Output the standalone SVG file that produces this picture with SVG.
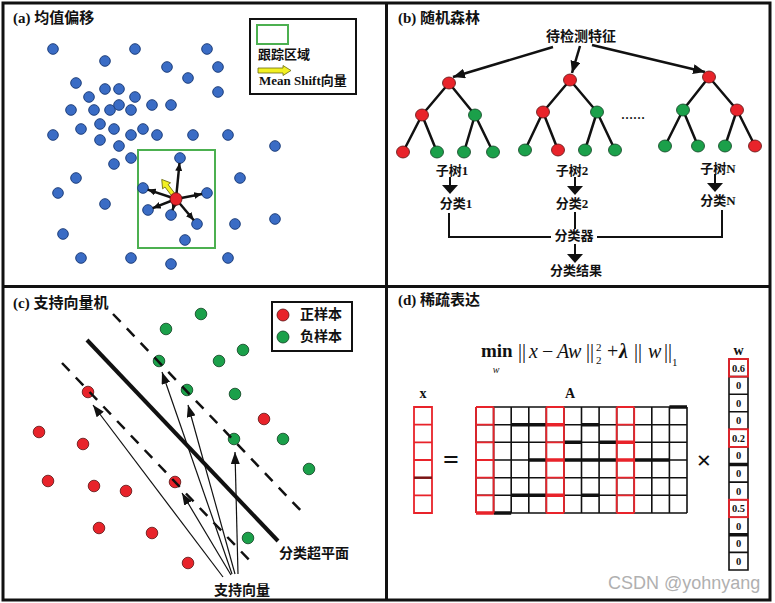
<svg xmlns="http://www.w3.org/2000/svg" width="775" height="603" viewBox="0 0 775 603">
<style>
.t{font-family:"Liberation Serif","Noto Sans CJK SC",serif;font-weight:bold;fill:#111}
.bd{fill:#3a6cc5;stroke:#1e3f7c;stroke-width:1}
.rd{fill:#e8232a;stroke:#5a1010;stroke-width:0.8}
.gd{fill:#1ba04a;stroke:#0d4020;stroke-width:0.8}
.ln{stroke:#111;stroke-width:2.5;fill:none}
.thin{stroke:#111;stroke-width:1.2;fill:none}
.grid{stroke:#111;stroke-width:1.6;fill:none}
.red{stroke:#e8232a;stroke-width:1.8;fill:none}
.thick{stroke:#111;stroke-width:3.5;fill:none}
.thickr{stroke:#e8232a;stroke-width:3.5;fill:none}
.dash{stroke:#111;stroke-width:2.5;fill:none;stroke-dasharray:11 9}
</style>
<defs>
<marker id="ma" markerUnits="userSpaceOnUse" markerWidth="8" markerHeight="7" refX="8" refY="3.5" orient="auto"><path d="M0,0 L8,3.5 L0,7 z" fill="#111"/></marker>
<marker id="mb" markerUnits="userSpaceOnUse" markerWidth="12" markerHeight="10" refX="12" refY="5" orient="auto"><path d="M0,0 L12,5 L0,10 z" fill="#111"/></marker>
<marker id="mc" markerUnits="userSpaceOnUse" markerWidth="12" markerHeight="9" refX="12" refY="4.5" orient="auto"><path d="M0,0 L12,4.5 L0,9 z" fill="#111"/></marker>
</defs>
<rect x="0" y="0" width="775" height="603" fill="#fff"/>
<g id="frames">
<rect x="3" y="3" width="767" height="597" fill="none" stroke="#111" stroke-width="3"/>
<line x1="386.5" y1="3" x2="386.5" y2="600" stroke="#111" stroke-width="3"/>
<line x1="3" y1="286.5" x2="770" y2="286.5" stroke="#111" stroke-width="3"/>
</g>

<!-- Panel (a) -->
<g id="panel-a">
<text class="t" x="13" y="23" font-size="15">(a) 均值偏移</text>
<rect x="138" y="150" width="77" height="98" fill="none" stroke="#4cb050" stroke-width="2"/>
<g id="points-a">
<circle class="bd" cx="53" cy="49" r="5.3"/><circle class="bd" cx="135" cy="49" r="5.3"/><circle class="bd" cx="207" cy="49" r="5.3"/>
<circle class="bd" cx="105" cy="61" r="5.3"/><circle class="bd" cx="167" cy="67" r="5.3"/><circle class="bd" cx="218" cy="67" r="5.3"/>
<circle class="bd" cx="188" cy="78" r="5.3"/><circle class="bd" cx="76" cy="83" r="5.3"/><circle class="bd" cx="105" cy="89" r="5.3"/>
<circle class="bd" cx="119" cy="89" r="5.3"/><circle class="bd" cx="218" cy="92" r="5.3"/><circle class="bd" cx="89" cy="97" r="5.3"/>
<circle class="bd" cx="135" cy="97" r="5.3"/><circle class="bd" cx="71" cy="110" r="5.3"/><circle class="bd" cx="94" cy="110" r="5.3"/>
<circle class="bd" cx="110" cy="110" r="5.3"/><circle class="bd" cx="119" cy="105" r="5.3"/><circle class="bd" cx="131" cy="110" r="5.3"/>
<circle class="bd" cx="152" cy="105" r="5.3"/><circle class="bd" cx="171" cy="105" r="5.3"/><circle class="bd" cx="53" cy="135" r="5.3"/>
<circle class="bd" cx="81" cy="129" r="5.3"/><circle class="bd" cx="100" cy="124" r="5.3"/><circle class="bd" cx="114" cy="129" r="5.3"/>
<circle class="bd" cx="131" cy="135" r="5.3"/><circle class="bd" cx="143" cy="129" r="5.3"/><circle class="bd" cx="157" cy="135" r="5.3"/>
<circle class="bd" cx="193" cy="135" r="5.3"/><circle class="bd" cx="228" cy="135" r="5.3"/><circle class="bd" cx="100" cy="140" r="5.3"/>
<circle class="bd" cx="119" cy="146" r="5.3"/><circle class="bd" cx="275" cy="146" r="5.3"/><circle class="bd" cx="131" cy="158" r="5.3"/>
<circle class="bd" cx="114" cy="164" r="5.3"/><circle class="bd" cx="180" cy="158" r="5.3"/><circle class="bd" cx="76" cy="178" r="5.3"/>
<circle class="bd" cx="240" cy="178" r="5.3"/><circle class="bd" cx="143" cy="188" r="5.3"/><circle class="bd" cx="207" cy="193" r="5.3"/>
<circle class="bd" cx="58" cy="193" r="5.3"/><circle class="bd" cx="105" cy="204" r="5.3"/><circle class="bd" cx="148" cy="210" r="5.3"/>
<circle class="bd" cx="171" cy="215" r="5.3"/><circle class="bd" cx="197" cy="224" r="5.3"/><circle class="bd" cx="235" cy="224" r="5.3"/>
<circle class="bd" cx="275" cy="219" r="5.3"/><circle class="bd" cx="63" cy="234" r="5.3"/><circle class="bd" cx="185" cy="240" r="5.3"/>
<circle class="bd" cx="81" cy="258" r="5.3"/><circle class="bd" cx="131" cy="258" r="5.3"/><circle class="bd" cx="171" cy="264" r="5.3"/>
<circle class="bd" cx="228" cy="258" r="5.3"/>
</g>
<g id="shift-arrows">
<line class="ln" x1="176" y1="199" x2="179.5" y2="163" stroke-width="2" marker-end="url(#ma)"/>
<line class="ln" x1="176" y1="199" x2="147.7" y2="189.6" stroke-width="2" marker-end="url(#ma)"/>
<line class="ln" x1="176" y1="199" x2="202" y2="194" stroke-width="2" marker-end="url(#ma)"/>
<line class="ln" x1="176" y1="199" x2="152.7" y2="208.2" stroke-width="2" marker-end="url(#ma)"/>
<line class="ln" x1="176" y1="199" x2="172.5" y2="210.2" stroke-width="2" marker-end="url(#ma)"/>
<line class="ln" x1="176" y1="199" x2="193.8" y2="220.2" stroke-width="2" marker-end="url(#ma)"/>
<polygon transform="translate(175,197) rotate(-127)" points="0,-2 14,-2 14,-5 22,0 14,5 14,2 0,2" fill="#f2f022" stroke="#6a6a10" stroke-width="0.8"/>
</g>
<ellipse class="rd" cx="176" cy="199" rx="6" ry="6.3"/>
<g id="legend-a">
<rect x="250" y="19" width="106" height="75" fill="#fff" stroke="#111" stroke-width="2"/>
<rect x="257" y="25" width="31" height="19" fill="#fff" stroke="#4cb050" stroke-width="2"/>
<text class="t" x="258" y="59" font-size="13">跟踪区域</text>
<polygon points="258,68 283,68 283,65.5 291,70.5 283,75.5 283,73 258,73" fill="#f2f022" stroke="#6a6a10" stroke-width="0.8"/>
<text class="t" x="259" y="85" font-size="13">Mean Shift向量</text>
</g>
</g>

<!-- Panel (b) -->
<g id="panel-b">
<text class="t" x="398" y="23" font-size="15">(b) 随机森林</text>
<text class="t" x="581" y="41" font-size="14" text-anchor="middle">待检测特征</text>
<g id="connectors-b">
<line class="ln" x1="553" y1="47" x2="453" y2="77" marker-end="url(#mb)"/>
<line class="ln" x1="580" y1="46" x2="572" y2="73" marker-end="url(#mb)"/>
<line class="ln" x1="592" y1="45" x2="705" y2="72" marker-end="url(#mb)"/>
<path class="ln" d="M449,83 L422,115 M449,83 L475,115 M422,115 L403,152 M422,115 L437,152 M475,115 L464,152 M475,115 L493,152"/>
<path class="ln" d="M570,80 L543,112 M570,80 L597,112 M543,112 L525,150 M543,112 L558,150 M597,112 L585,150 M597,112 L615,150"/>
<path class="ln" d="M709,77 L683,110 M709,77 L737,110 M683,110 L665,146 M683,110 L698,146 M737,110 L725,146 M737,110 L755,146"/>
<line x1="450" y1="177" x2="450" y2="186" stroke="#111" stroke-width="2"/>
<polygon points="442,185 458,185 450,194" fill="#111"/>
<line x1="575" y1="177" x2="575" y2="187" stroke="#111" stroke-width="2"/>
<polygon points="567,186 583,186 575,195" fill="#111"/>
<line x1="715" y1="174" x2="715" y2="184" stroke="#111" stroke-width="2"/>
<polygon points="707,183 723,183 715,192" fill="#111"/>
<path d="M449,213 V237 H722 V210" stroke="#111" stroke-width="2" fill="none"/>
<line x1="575" y1="212" x2="575" y2="255" stroke="#111" stroke-width="2"/>
<polygon points="567,254 583,254 575,263" fill="#111"/>
</g>
<g id="tree1">
<ellipse class="rd" cx="449" cy="83" rx="6.5" ry="6"/>
<ellipse class="rd" cx="422" cy="115" rx="6.5" ry="6"/><ellipse class="gd" cx="475" cy="115" rx="6.5" ry="6"/>
<ellipse class="rd" cx="403" cy="152" rx="6.5" ry="6"/><ellipse class="gd" cx="437" cy="152" rx="6.5" ry="6"/>
<ellipse class="gd" cx="464" cy="152" rx="6.5" ry="6"/><ellipse class="gd" cx="493" cy="152" rx="6.5" ry="6"/>
</g>
<g id="tree2">
<ellipse class="rd" cx="570" cy="80" rx="6.5" ry="6"/>
<ellipse class="rd" cx="543" cy="112" rx="6.5" ry="6"/><ellipse class="gd" cx="597" cy="112" rx="6.5" ry="6"/>
<ellipse class="gd" cx="525" cy="150" rx="6.5" ry="6"/><ellipse class="rd" cx="558" cy="150" rx="6.5" ry="6"/>
<ellipse class="gd" cx="585" cy="150" rx="6.5" ry="6"/><ellipse class="gd" cx="615" cy="150" rx="6.5" ry="6"/>
</g>
<g id="treeN">
<ellipse class="rd" cx="709" cy="77" rx="6.5" ry="6"/>
<ellipse class="gd" cx="683" cy="110" rx="6.5" ry="6"/><ellipse class="rd" cx="737" cy="110" rx="6.5" ry="6"/>
<ellipse class="gd" cx="665" cy="146" rx="6.5" ry="6"/><ellipse class="gd" cx="698" cy="146" rx="6.5" ry="6"/>
<ellipse class="gd" cx="725" cy="146" rx="6.5" ry="6"/><ellipse class="rd" cx="755" cy="146" rx="6.5" ry="6"/>
</g>
<text class="t" x="633" y="119" font-size="12" text-anchor="middle">……</text>
<g id="labels-b">
<text class="t" x="452" y="175" font-size="13" text-anchor="middle">子树1</text>
<text class="t" x="572" y="175" font-size="13" text-anchor="middle">子树2</text>
<text class="t" x="718" y="173" font-size="13" text-anchor="middle">子树N</text>
<text class="t" x="456" y="208" font-size="13" text-anchor="middle">分类1</text>
<text class="t" x="572" y="208" font-size="13" text-anchor="middle">分类2</text>
<text class="t" x="718" y="205" font-size="13" text-anchor="middle">分类N</text>
<rect x="551" y="229" width="46" height="15" fill="#fff"/>
<text class="t" x="574" y="240" font-size="13" text-anchor="middle">分类器</text>
<text class="t" x="576" y="275" font-size="13" text-anchor="middle">分类结果</text>
</g>
</g>

<!-- Panel (c) -->
<g id="panel-c">
<text class="t" x="13" y="308" font-size="15">(c) 支持向量机</text>
<g id="pos-samples">
<circle class="rd" cx="88" cy="392" r="5.8"/><circle class="rd" cx="39" cy="432" r="5.8"/><circle class="rd" cx="83" cy="444" r="5.8"/>
<circle class="rd" cx="48" cy="481" r="5.8"/><circle class="rd" cx="94" cy="486" r="5.8"/><circle class="rd" cx="126" cy="491" r="5.8"/>
<circle class="rd" cx="175" cy="482" r="5.8"/><circle class="rd" cx="99" cy="528" r="5.8"/><circle class="rd" cx="152" cy="533" r="5.8"/>
<circle class="rd" cx="188" cy="563" r="5.8"/><circle class="rd" cx="264" cy="419" r="5.8"/>
</g>
<g id="neg-samples">
<circle class="gd" cx="201" cy="314" r="5.8"/><circle class="gd" cx="166" cy="329" r="5.8"/><circle class="gd" cx="243" cy="350" r="5.8"/>
<circle class="gd" cx="219" cy="361" r="5.8"/><circle class="gd" cx="159" cy="361" r="5.8"/><circle class="gd" cx="187" cy="390" r="5.8"/>
<circle class="gd" cx="235" cy="394" r="5.8"/><circle class="gd" cx="234" cy="439" r="5.8"/><circle class="gd" cx="283" cy="439" r="5.8"/>
<circle class="gd" cx="309" cy="469" r="5.8"/><circle class="gd" cx="248" cy="538" r="5.8"/>
</g>
<g id="svm-lines">
<line x1="87" y1="340" x2="278" y2="541" stroke="#111" stroke-width="4"/>
<line class="dash" x1="113" y1="314" x2="304" y2="514"/>
<line class="dash" x1="62" y1="363" x2="252" y2="563"/>
<line class="thin" x1="223" y1="577" x2="93" y2="405" marker-end="url(#mc)"/>
<line class="thin" x1="232" y1="574" x2="162" y2="372" marker-end="url(#mc)"/>
<line class="thin" x1="235" y1="574" x2="188" y2="405" marker-end="url(#mc)"/>
<line class="thin" x1="231" y1="575" x2="182" y2="493" marker-end="url(#mc)"/>
<line class="thin" x1="238" y1="574" x2="235" y2="452" marker-end="url(#mc)"/>
</g>
<text class="t" x="279" y="558" font-size="14">分类超平面</text>
<text class="t" x="242" y="595" font-size="14" text-anchor="middle">支持向量</text>
<g id="legend-c">
<rect x="272" y="302" width="80" height="49" fill="#fff" stroke="#111" stroke-width="2"/>
<circle class="rd" cx="283" cy="315" r="6"/>
<text class="t" x="300" y="319" font-size="14">正样本</text>
<circle class="gd" cx="283" cy="337" r="6"/>
<text class="t" x="300" y="341" font-size="14">负样本</text>
</g>
</g>

<!-- Panel (d) -->
<g id="panel-d">
<text class="t" x="398" y="305" font-size="15">(d) 稀疏表达</text>
<g id="formula" font-family="Liberation Serif,serif" fill="#111" font-size="20">
<text x="481" y="357" font-weight="bold" font-size="19">min</text>
<text x="496" y="373" font-size="10" font-style="italic" text-anchor="middle">w</text>
<text x="518" y="358">||</text>
<text x="529" y="358" font-style="italic">x</text>
<text x="542" y="358">−</text>
<text x="557" y="358" font-style="italic">Aw</text>
<text x="586" y="358">||</text>
<text x="596" y="351" font-size="11">2</text>
<text x="596" y="364" font-size="11">2</text>
<text x="607" y="358">+</text>
<text x="619" y="358" font-weight="bold" font-style="italic">λ</text>
<text x="634" y="358">||</text>
<text x="648" y="358" font-style="italic">w</text>
<text x="664" y="358">||</text>
<text x="672" y="366" font-size="11">1</text>
</g>
<g id="vec-x">
<text class="t" x="423" y="398" font-size="14" text-anchor="middle">x</text>
<path class="red" d="M414,407 H432 V513 H414 Z M414,424.7 H432 M414,442.3 H432 M414,460 H432 M414,495.3 H432"/>
<line x1="414" y1="477.7" x2="432" y2="477.7" stroke="#7a1414" stroke-width="2.5"/>
</g>
<text class="t" x="451" y="469" font-size="28" text-anchor="middle" font-family="Liberation Sans,sans-serif">=</text>
<g id="matrix-A">
<text class="t" x="570" y="398" font-size="14" text-anchor="middle">A</text>
<path class="grid" d="M476,407 H687 M476,424.7 H687 M476,442.3 H687 M476,460 H687 M476,477.7 H687 M476,495.3 H687 M476,513 H687
M476,407 V513 M493.6,407 V513 M511.2,407 V513 M528.8,407 V513 M546.3,407 V513 M563.9,407 V513 M581.5,407 V513 M599.1,407 V513 M616.7,407 V513 M634.2,407 V513 M651.8,407 V513 M669.4,407 V513 M687,407 V513"/>
<path class="thick" d="M669.4,407 H687 M511.2,424.7 H546.3 M581.5,424.7 H599.1 M563.9,442.3 H581.5 M599.1,442.3 H616.7 M528.8,460 H546.3 M563.9,460 H616.7 M634.2,460 H669.4 M511.2,495.3 H546.3 M581.5,495.3 H599.1 M493.6,513 H511.2"/>
<path class="red" d="M476,407 V513 M493.6,407 V513 M476,407 H493.6 M476,424.7 H493.6 M476,442.3 H493.6 M476,460 H493.6 M476,477.7 H493.6 M476,495.3 H493.6 M476,513 H493.6
M546.3,407 V513 M563.9,407 V513 M546.3,407 H563.9 M546.3,424.7 H563.9 M546.3,442.3 H563.9 M546.3,460 H563.9 M546.3,477.7 H563.9 M546.3,495.3 H563.9 M546.3,513 H563.9
M616.7,407 V513 M634.2,407 V513 M616.7,407 H634.2 M616.7,424.7 H634.2 M616.7,442.3 H634.2 M616.7,460 H634.2 M616.7,477.7 H634.2 M616.7,495.3 H634.2 M616.7,513 H634.2"/>
<path class="thickr" d="M546.3,424.7 H563.9 M616.7,442.3 H634.2 M546.3,460 H563.9 M616.7,460 H634.2 M546.3,495.3 H563.9 M476,513 H493.6"/>
</g>
<text class="t" x="704" y="469" font-size="26" text-anchor="middle" font-family="Liberation Sans,sans-serif">×</text>
<g id="vec-w">
<text class="t" x="738.5" y="355" font-size="14" text-anchor="middle">w</text>
<path class="grid" d="M729,359 H748 V570 H729 Z M729,376.6 H748 M729,394.2 H748 M729,411.7 H748 M729,429.3 H748 M729,446.9 H748 M729,464.5 H748 M729,482.1 H748 M729,499.7 H748 M729,517.2 H748 M729,534.8 H748 M729,552.4 H748"/>
<path class="thick" d="M729,464.5 H748 M729,534.8 H748" stroke-width="2.5"/>
<rect class="red" x="729" y="359" width="19" height="17.6"/>
<rect class="red" x="729" y="429.3" width="19" height="17.6"/>
<rect class="red" x="729" y="499.7" width="19" height="17.5"/>
<g class="t" font-size="10.5" text-anchor="middle">
<text x="738.5" y="371.5">0.6</text><text x="738.5" y="389">0</text><text x="738.5" y="406.7">0</text><text x="738.5" y="424.2">0</text>
<text x="738.5" y="441.8">0.2</text><text x="738.5" y="459.4">0</text><text x="738.5" y="477">0</text><text x="738.5" y="494.6">0</text>
<text x="738.5" y="512.2">0.5</text><text x="738.5" y="529.7">0</text><text x="738.5" y="547.3">0</text><text x="738.5" y="564.9">0</text>
</g>
</g>
<text x="608" y="589" font-size="18" font-family="Liberation Sans,sans-serif" fill="#b0b0b0">CSDN @yohnyang</text>
</g>
</svg>
